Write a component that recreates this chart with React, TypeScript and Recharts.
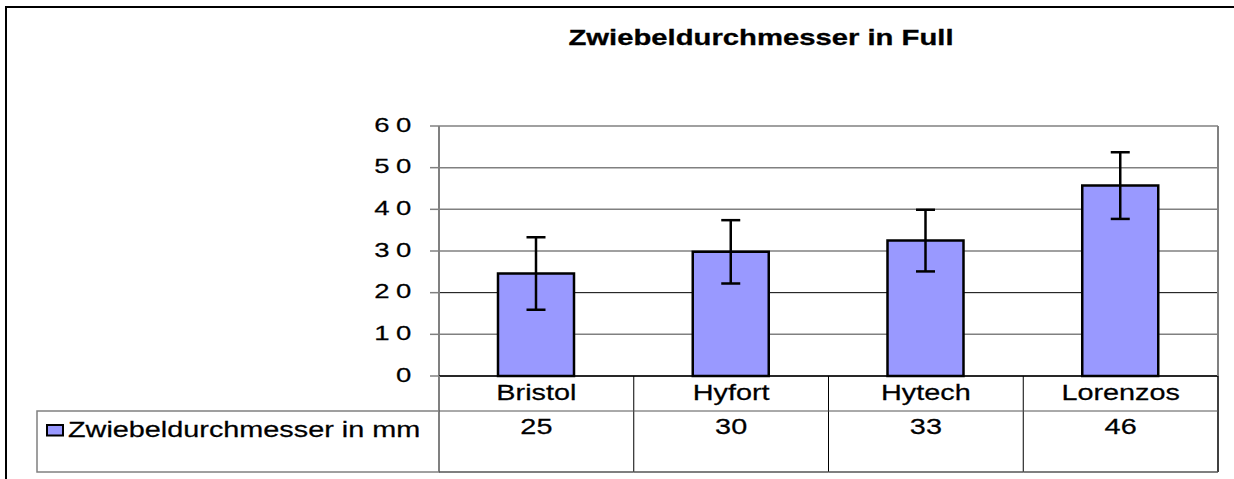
import React from "react";
import { BarChart, Bar, XAxis, YAxis, CartesianGrid, ErrorBar } from "recharts";

// ---- data ----
const varieties = ["Bristol", "Hyfort", "Hytech", "Lorenzos"];
const diameters = [24.6, 29.8, 32.5, 45.7];
const errors = [8.7, 7.6, 7.4, 8.0];
const yTicks = [0, 10, 20, 30, 40, 50, 60];
const seriesName = "Zwiebeldurchmesser in mm";
const chartTitle = "Zwiebeldurchmesser in Full";

const data = varieties.map((name, i) => ({ name, value: diameters[i], err: errors[i] }));

// ---- layout ----
const W = 1234;
const H = 479;
const MARGIN = { top: 126, right: 16, bottom: 0, left: 0 };
const Y_AXIS_W = 439;
const X_AXIS_H = 103;
const PLOT_W = W - MARGIN.left - MARGIN.right - Y_AXIS_W;
const PLOT_H = H - MARGIN.top - MARGIN.bottom - X_AXIS_H;
const HALF_BAND = PLOT_W / varieties.length / 2;
const SX = 1.31;
const FONT = "Arial, 'Liberation Sans', Helvetica, sans-serif";
const BAR_FILL = "#9999FF";
const GRID = "#808080";

const WideText = ({ x, y, anchor = "start", size = 22, weight = "normal", spacing = 0, sx = SX, children }: any) => (
  <text
    transform={`translate(${x},${y}) scale(${sx},1)`}
    textAnchor={anchor}
    fontSize={size}
    fontWeight={weight}
    fontFamily={FONT}
    letterSpacing={spacing}
    fill="#000"
    stroke="#000"
    strokeWidth={weight === "bold" ? 0.3 : 0.25}
  >
    {children}
  </text>
);

const YTick = (props: any) => {
  const { x, y, payload } = props;
  return (
    <WideText x={x + 6.5} y={y + 5.5} anchor="end" size={21} spacing={4.8}>
      {payload.value}
    </WideText>
  );
};

const XTick = (props: any) => {
  const { x, y, payload, index } = props;
  const i = typeof payload.index === "number" ? payload.index : index;
  const left = x - HALF_BAND;
  const right = x + HALF_BAND;
  const mid = y + 35;
  const bottom = y + 96;
  const last = i === varieties.length - 1;
  return (
    <g>
      {i === 0 && (
        <g>
          <rect x={37} y={mid} width={left - 37} height={bottom - mid} fill="none" stroke={GRID} strokeWidth={1.5} />
          <line x1={left} y1={y} x2={left} y2={bottom} stroke={GRID} strokeWidth={2} />
          <rect x={47} y={425} width={16} height={10.5} fill={BAR_FILL} stroke="#000" strokeWidth={2} />
          <WideText x={68} y={y + 60.5} anchor="start" size={22}>
            {seriesName}
          </WideText>
        </g>
      )}
      {last && (
        <line x1={right} y1={y - PLOT_H} x2={right} y2={y} stroke={GRID} strokeWidth={2} />
      )}
      <line x1={right} y1={y} x2={right} y2={bottom} stroke="#000" strokeWidth={last ? 1.5 : 1} />
      <line x1={left} y1={mid} x2={right} y2={mid} stroke="#555" strokeWidth={1} />
      <line x1={left} y1={bottom} x2={right} y2={bottom} stroke="#555" strokeWidth={1.5} />
      <WideText x={x} y={y + 23.5} anchor="middle" size={22}>
        {payload.value}
      </WideText>
      <WideText x={x} y={y + 58} anchor="middle" size={22}>
        {Math.round(diameters[i])}
      </WideText>
    </g>
  );
};

const GridLine = (p: any) => {
  const isTwenty = yTicks[p.index] === 20;
  return (
    <line
      key={`g-${p.index}`}
      x1={p.x1}
      y1={p.y1}
      x2={p.x2}
      y2={p.y2}
      stroke={isTwenty ? "#000" : GRID}
      strokeWidth={isTwenty ? 1 : 1.5}
    />
  );
};

export default function App() {
  return (
    <div style={{ position: "fixed", left: 0, top: 0, width: W, height: H, overflow: "hidden", background: "#fff" }}>
      <svg style={{ position: "absolute", left: 0, top: 0, display: "block" }} width={W} height={H}>
        <line x1={5} y1={7} x2={W + 10} y2={7} stroke="#000" strokeWidth={2} />
        <line x1={6} y1={6} x2={6} y2={H + 10} stroke="#000" strokeWidth={2} />
        <WideText x={761} y={45} anchor="middle" size={22} weight="bold" sx={1.33}>
          {chartTitle}
        </WideText>
      </svg>
      <div style={{ position: "absolute", left: 0, top: 0 }}>
        <BarChart width={W} height={H} data={data} margin={MARGIN}>
          <CartesianGrid vertical={false} horizontal={GridLine as any} />
          <YAxis
            type="number"
            domain={[0, 60]}
            ticks={yTicks}
            interval={0}
            width={Y_AXIS_W}
            tickSize={9}
            tickMargin={19}
            axisLine={{ stroke: GRID, strokeWidth: 2 }}
            tickLine={{ stroke: GRID, strokeWidth: 1.5 }}
            tick={<YTick />}
          />
          <XAxis
            dataKey="name"
            type="category"
            interval={0}
            height={X_AXIS_H}
            tickSize={0}
            tickMargin={0}
            tickLine={false}
            axisLine={{ stroke: "#000", strokeWidth: 1.5 }}
            tick={<XTick />}
          />
          <Bar dataKey="value" fill={BAR_FILL} stroke="#000" strokeWidth={2.5} barSize={76} isAnimationActive={false}>
            <ErrorBar dataKey="err" direction="y" width={9.5} stroke="#000" strokeWidth={2.5} isAnimationActive={false} />
          </Bar>
        </BarChart>
      </div>
    </div>
  );
}
